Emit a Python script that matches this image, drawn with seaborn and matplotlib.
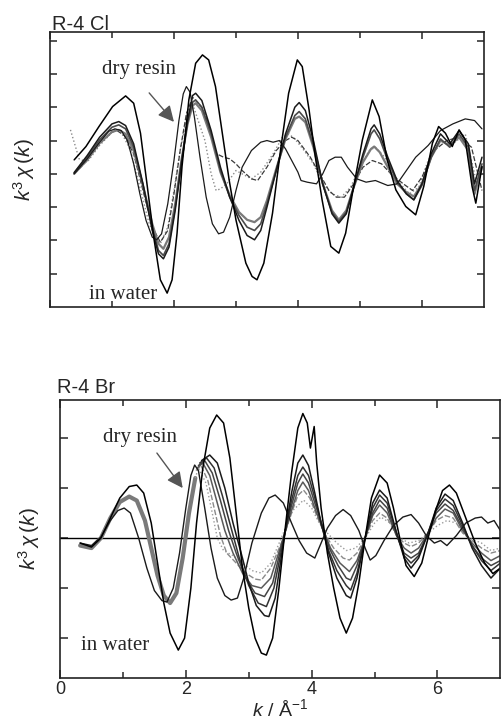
import matplotlib
matplotlib.use("Agg")
import matplotlib.pyplot as plt
import seaborn as sns

# ---- R-4 Cl panel (k in 1/A, k^3 chi(k) in tick units) ----
cl_water_k = [0.39, 0.58, 0.79, 1.01, 1.22, 1.35, 1.46, 1.57, 1.68, 1.78, 1.89, 1.97, 2.05, 2.13, 2.24, 2.35,
              2.46, 2.56, 2.67, 2.78, 2.89, 3.0, 3.16, 3.26, 3.34, 3.45, 3.59, 3.72, 3.85, 3.99, 4.07, 4.18,
              4.28, 4.39, 4.53, 4.66, 4.77, 4.88, 5.04, 5.2, 5.31, 5.44, 5.58, 5.74, 5.9, 6.03, 6.17, 6.27,
              6.38, 6.49, 6.6, 6.7, 6.81, 6.87, 6.97]
cl_water_v = [0.42, 0.82, 1.42, 2.02, 2.34, 2.12, 1.22, -0.38, -1.98, -3.18, -3.58, -3.18, -1.78, 0.22, 2.22, 3.32,
              3.57, 3.42, 2.62, 1.22, -0.18, -1.38, -2.68, -3.08, -3.18, -2.68, -1.18, 0.72, 2.42, 3.42, 3.22, 1.92,
              0.52, -0.78, -2.18, -2.38, -1.78, -0.58, 1.02, 2.22, 1.72, 0.42, -0.48, -0.98, -1.23, -0.38, 0.92, 1.42,
              1.22, 0.82, 1.32, 1.02, -0.38, -0.88, 0.22]

cl_b1_k = [0.39, 0.6, 0.8, 1.0, 1.11, 1.22, 1.35, 1.5, 1.65, 1.75, 1.83, 1.92, 2.02, 2.12, 2.22, 2.3, 2.35, 2.45,
           2.6, 2.75, 2.9, 3.05, 3.18, 3.3, 3.4, 3.5, 3.65, 3.8, 3.95, 4.02, 4.12, 4.25, 4.4, 4.55, 4.66, 4.78,
           4.9, 5.05, 5.18, 5.23, 5.32, 5.45, 5.6, 5.75, 5.87, 6.0, 6.15, 6.3, 6.45, 6.6, 6.75, 6.85, 6.97]
cl_b1_v = [0.04, 0.55, 1.1, 1.5, 1.57, 1.45, 0.9, -0.3, -1.7, -2.4, -2.55, -2.2, -1.1, 0.3, 1.6, 2.35, 2.42, 2.2,
           1.3, 0.2, -0.7, -1.4, -1.85, -1.98, -1.7, -1.0, 0.1, 1.2, 2.0, 2.14, 1.9, 1.0, -0.3, -1.2, -1.48, -1.2,
           -0.4, 0.6, 1.35, 1.47, 1.2, 0.5, -0.2, -0.6, -0.78, -0.3, 0.6, 1.2, 0.9, 1.3, 0.9, -0.3, 0.5]

cl_b2_k = cl_b1_k
cl_b2_v = [0.02, 0.5, 1.02, 1.4, 1.47, 1.35, 0.8, -0.35, -1.6, -2.3, -2.45, -2.1, -1.0, 0.35, 1.55, 2.15, 2.22, 2.0,
           1.2, 0.1, -0.7, -1.25, -1.6, -1.7, -1.5, -0.9, 0.1, 1.1, 1.75, 1.87, 1.65, 0.85, -0.3, -1.15, -1.43, -1.15,
           -0.4, 0.5, 1.2, 1.32, 1.05, 0.4, -0.25, -0.6, -0.78, -0.35, 0.5, 1.05, 0.8, 1.2, 0.8, -0.5, 0.3]

cl_b3_k = cl_b1_k
cl_b3_v = [0.0, 0.42, 0.92, 1.26, 1.32, 1.2, 0.7, -0.35, -1.5, -2.1, -2.25, -1.9, -0.9, 0.4, 1.5, 2.05, 2.12, 1.9,
           1.1, 0.05, -0.65, -1.15, -1.38, -1.45, -1.3, -0.8, 0.15, 1.05, 1.65, 1.72, 1.55, 0.8, -0.3, -1.1, -1.38, -1.1,
           -0.4, 0.35, 0.75, 0.82, 0.65, 0.2, -0.3, -0.55, -0.68, -0.3, 0.5, 1.0, 0.85, 1.1, 0.7, -0.6, 0.2]

cl_c1_k = [0.39, 0.6, 0.8, 1.0, 1.08, 1.2, 1.35, 1.5, 1.65, 1.78, 1.9, 2.0, 2.1, 2.2, 2.3, 2.45, 2.56, 2.67, 2.8,
           2.9, 3.0, 3.1, 3.25, 3.35, 3.5, 3.65, 3.8, 3.9, 4.0, 4.1, 4.2, 4.35, 4.5, 4.62, 4.75, 4.9, 5.05, 5.2,
           5.35, 5.5, 5.7, 5.85, 6.0, 6.2, 6.4, 6.6, 6.8, 6.97]
cl_c1_v = [0.0, 0.4, 0.9, 1.25, 1.3, 1.15, 0.6, -0.5, -1.6, -2.05, -1.7, -0.6, 0.7, 1.8, 2.3, 2.0, 1.5, 0.62, 0.5,
           0.45, 0.3, 0.1, -0.15, -0.2, 0.2, 0.7, 1.0, 1.1, 1.0, 0.75, 0.5, 0.0, -0.5, -0.7, -0.7, -0.3, 0.2, 0.4,
           0.3, 0.0, -0.3, -0.5, -0.1, 0.7, 1.0, 1.1, 0.8, -0.5]

cl_c2_k = [0.33, 0.47, 0.6, 0.8, 1.0, 1.05, 1.15, 1.3, 1.45, 1.6, 1.72, 1.78, 1.9, 2.0, 2.1, 2.2, 2.3, 2.5, 2.6,
           2.68, 2.75, 2.85, 3.0, 3.1, 3.25, 3.4, 3.6, 3.75, 3.85, 3.95, 4.1, 4.25, 4.4, 4.55, 4.7, 4.85, 5.0,
           5.15, 5.25, 5.4, 5.6, 5.8, 5.95, 6.1, 6.3, 6.5, 6.7, 6.9]
cl_c2_v = [1.32, 0.45, 0.35, 0.85, 1.25, 1.35, 1.25, 0.7, -0.4, -1.5, -2.0, -2.1, -1.6, -0.5, 0.7, 1.6, 2.1, 1.0, 0.0,
           -0.5, -0.45, -0.3, 0.1, 0.0, -0.15, 0.05, 0.6, 1.1, 1.2, 1.05, 0.7, 0.3, -0.3, -0.6, -0.7, -0.4, 0.2,
           0.7, 0.8, 0.5, -0.2, -0.6, -0.4, 0.4, 1.0, 0.9, 1.2, -0.4]

cl_dry_k = [0.39, 0.6, 0.8, 0.95, 1.05, 1.15, 1.25, 1.35, 1.45, 1.55, 1.65, 1.72, 1.8, 1.9, 2.0, 2.08, 2.15, 2.2,
            2.26, 2.33, 2.42, 2.52, 2.62, 2.72, 2.8, 2.9, 3.0, 3.1, 3.25, 3.4, 3.5, 3.6, 3.7, 3.8, 3.9, 4.0, 4.05,
            4.15, 4.3, 4.4, 4.5, 4.6, 4.7, 4.8, 4.95, 5.1, 5.25, 5.45, 5.6, 5.75, 5.9, 6.1, 6.3, 6.5, 6.7, 6.85, 6.97]
cl_dry_v = [0.0, 0.45, 0.95, 1.28, 1.35, 1.3, 1.0, 0.3, -0.6, -1.4, -1.9, -1.98, -1.8, -0.9, 0.4, 1.6, 2.4, 2.62,
            2.45, 1.7, 0.5, -0.7, -1.5, -1.8, -1.75, -1.3, -0.5, 0.2, 0.7, 0.95, 1.0, 0.95, 1.0, 0.75, 0.4, 0.05, -0.2,
            -0.25, -0.3, 0.0, 0.4, 0.5, 0.5, 0.2, -0.15, -0.25, -0.2, -0.35, -0.3, 0.1, 0.5, 0.85, 1.3, 1.5, 1.65, 1.6, 1.35]

# ---- R-4 Br panel ----
br_water_k = [0.32, 0.5, 0.65, 0.8, 0.95, 1.1, 1.22, 1.33, 1.45, 1.55, 1.65, 1.75, 1.88, 1.98, 2.08, 2.17, 2.27,
              2.38, 2.49, 2.6, 2.7, 2.8, 2.9, 3.0, 3.1, 3.2, 3.28, 3.38, 3.48, 3.58, 3.68, 3.78, 3.86, 3.93, 3.98,
              4.04, 4.08, 4.15, 4.25, 4.35, 4.45, 4.55, 4.65, 4.75, 4.85, 4.95, 5.08, 5.2, 5.3, 5.4, 5.5, 5.63,
              5.75, 5.85, 5.97, 6.08, 6.19, 6.3, 6.45, 6.6, 6.75, 6.88, 7.0]
br_water_v = [-0.1, -0.18, 0.0, 0.4, 0.8, 1.03, 1.06, 0.9, 0.3, -0.5, -1.3, -1.9, -2.24, -2.0, -1.0, 0.3, 1.4,
              2.2, 2.46, 2.3, 1.6, 0.5, -0.6, -1.4, -2.0, -2.3, -2.34, -2.0, -1.0, 0.2, 1.3, 2.2, 2.49, 2.3, 1.8,
              2.23, 1.5, 0.6, -0.3, -1.0, -1.6, -1.9, -1.6, -0.9, 0.0, 0.8, 1.26, 1.1, 0.6, 0.0, -0.55, -0.77,
              -0.5, 0.0, 0.55, 0.95, 1.06, 0.9, 0.4, -0.1, -0.5, -0.71, -0.6]

br_early_k = [0.32, 0.5, 0.65, 0.8, 0.95, 1.1, 1.22, 1.35, 1.45, 1.55, 1.65, 1.75, 1.85, 1.95, 2.05, 2.15]
br_early_v = [-0.15, -0.2, 0.0, 0.4, 0.72, 0.83, 0.75, 0.35, -0.2, -0.75, -1.15, -1.3, -1.1, -0.4, 0.5, 1.2]

br_f1_k = [2.25, 2.38, 2.5, 2.62, 2.75, 2.9, 3.0, 3.12, 3.25, 3.32, 3.42, 3.55, 3.68, 3.78, 3.86, 3.95, 4.05, 4.15,
           4.27, 4.4, 4.55, 4.62, 4.72, 4.85, 4.97, 5.08, 5.2, 5.35, 5.47, 5.58, 5.7, 5.85, 5.98, 6.12, 6.25, 6.4,
           6.55, 6.7, 6.85, 7.0]
br_f1_v = [1.55, 1.66, 1.5, 1.0, 0.3, -0.4, -0.9, -1.35, -1.55, -1.57, -1.2, -0.1, 0.9, 1.5, 1.66, 1.45, 0.9, 0.3,
           -0.3, -0.8, -1.15, -1.2, -0.8, 0.0, 0.7, 0.96, 0.8, 0.1, -0.4, -0.6, -0.4, 0.1, 0.6, 0.88, 0.75, 0.3,
           -0.2, -0.55, -0.8, -0.6]

br_f2_k = [2.22, 2.33, 2.45, 2.58, 2.72, 2.85, 3.0, 3.15, 3.28, 3.4, 3.55, 3.68, 3.78, 3.86, 3.95, 4.05, 4.15, 4.27,
           4.4, 4.55, 4.62, 4.72, 4.85, 4.97, 5.08, 5.2, 5.35, 5.47, 5.58, 5.7, 5.85, 5.98, 6.12, 6.25, 6.4, 6.55,
           6.7, 6.85, 7.0]
br_f2_v = [1.5, 1.6, 1.4, 0.85, 0.2, -0.4, -0.95, -1.3, -1.37, -1.0, -0.05, 0.75, 1.25, 1.42, 1.25, 0.8, 0.3, -0.25,
           -0.65, -0.95, -1.04, -0.7, 0.0, 0.6, 0.86, 0.7, 0.1, -0.35, -0.5, -0.35, 0.1, 0.55, 0.78, 0.65, 0.25, -0.15,
           -0.45, -0.65, -0.5]

br_f3_k = [2.2, 2.3, 2.42, 2.55, 2.68, 2.8, 2.95, 3.1, 3.25, 3.38, 3.55, 3.68, 3.78, 3.86, 3.95, 4.05, 4.17, 4.28,
           4.42, 4.55, 4.62, 4.72, 4.85, 4.97, 5.08, 5.2, 5.35, 5.47, 5.58, 5.7, 5.85, 5.98, 6.12, 6.25, 6.4, 6.55,
           6.7, 6.85, 7.0]
br_f3_v = [1.45, 1.55, 1.3, 0.75, 0.15, -0.3, -0.8, -1.1, -1.17, -0.9, 0.0, 0.65, 1.1, 1.28, 1.1, 0.7, 0.25, -0.2,
           -0.55, -0.8, -0.84, -0.55, 0.0, 0.5, 0.76, 0.6, 0.05, -0.3, -0.4, -0.3, 0.1, 0.5, 0.68, 0.55, 0.2, -0.15,
           -0.4, -0.55, -0.45]

br_f4_k = [2.18, 2.27, 2.38, 2.5, 2.62, 2.75, 2.9, 3.05, 3.2, 3.35, 3.55, 3.68, 3.78, 3.86, 3.95, 4.05, 4.17, 4.3,
           4.45, 4.6, 4.72, 4.85, 4.97, 5.08, 5.2, 5.35, 5.47, 5.58, 5.7, 5.85, 5.98, 6.12, 6.25, 6.4, 6.55, 6.7,
           6.85, 7.0]
br_f4_v = [1.4, 1.5, 1.25, 0.7, 0.15, -0.3, -0.7, -0.95, -1.0, -0.8, 0.0, 0.55, 0.95, 1.12, 0.95, 0.6, 0.2, -0.2,
           -0.5, -0.67, -0.45, 0.0, 0.45, 0.66, 0.5, 0.05, -0.2, -0.3, -0.2, 0.1, 0.4, 0.58, 0.5, 0.15, -0.1, -0.3,
           -0.45, -0.35]

br_f5_k = [2.16, 2.24, 2.35, 2.45, 2.55, 2.65, 2.8, 2.95, 3.1, 3.2, 3.35, 3.55, 3.68, 3.78, 3.87, 3.97, 4.08, 4.2,
           4.35, 4.5, 4.6, 4.72, 4.85, 4.97, 5.08, 5.2, 5.35, 5.47, 5.58, 5.7, 5.85, 5.98, 6.12, 6.25, 6.4, 6.55,
           6.7, 6.85, 7.0]
br_f5_v = [1.35, 1.45, 1.15, 0.6, 0.05, -0.3, -0.5, -0.7, -0.82, -0.84, -0.6, 0.0, 0.5, 0.85, 0.96, 0.8, 0.45, 0.1,
           -0.2, -0.4, -0.44, -0.3, 0.0, 0.35, 0.5, 0.4, 0.05, -0.1, -0.17, -0.1, 0.1, 0.35, 0.45, 0.4, 0.1, -0.05,
           -0.2, -0.3, -0.25]

br_f6_k = [2.15, 2.2, 2.32, 2.42, 2.5, 2.6, 2.75, 2.9, 3.05, 3.2, 3.35, 3.55, 3.7, 3.87, 4.0, 4.12, 4.25, 4.4,
           4.55, 4.7, 4.85, 5.0, 5.1, 5.25, 5.4, 5.55, 5.7, 5.85, 6.0, 6.15, 6.3, 6.5, 6.7, 6.85, 7.0]
br_f6_v = [1.2, 1.4, 1.1, 0.5, 0.0, -0.25, -0.35, -0.5, -0.65, -0.7, -0.5, 0.1, 0.55, 0.76, 0.6, 0.3, 0.1, -0.1,
           -0.25, -0.2, 0.0, 0.3, 0.42, 0.3, 0.0, -0.1, -0.05, 0.1, 0.25, 0.35, 0.3, 0.0, -0.1, -0.25, -0.2]

br_dry_k = [0.32, 0.5, 0.65, 0.8, 0.92, 1.02, 1.12, 1.25, 1.38, 1.5, 1.62, 1.7, 1.8, 1.9, 2.0, 2.08, 2.14, 2.2,
            2.3, 2.4, 2.5, 2.62, 2.72, 2.82, 2.92, 3.05, 3.2, 3.32, 3.42, 3.55, 3.68, 3.8, 3.92, 4.05, 4.15, 4.25,
            4.38, 4.5, 4.62, 4.75, 4.85, 4.93, 5.02, 5.15, 5.3, 5.45, 5.58, 5.7, 5.82, 5.95, 6.05, 6.15, 6.3, 6.45,
            6.6, 6.7, 6.8, 6.9, 7.0]
br_dry_v = [-0.1, -0.15, 0.02, 0.35, 0.55, 0.6, 0.5, 0.0, -0.6, -1.05, -1.25, -1.28, -1.0, -0.3, 0.6, 1.25, 1.46,
            1.35, 0.6, -0.2, -0.8, -1.15, -1.24, -1.2, -0.8, -0.1, 0.5, 0.8, 0.86, 0.7, 0.3, -0.05, -0.3, -0.4, -0.1,
            0.2, 0.45, 0.57, 0.45, 0.15, -0.2, -0.44, -0.35, -0.05, 0.25, 0.42, 0.47, 0.3, 0.05, -0.1, -0.05, -0.15,
            0.05, 0.3, 0.4, 0.42, 0.3, 0.35, 0.15]

sns.set_style("ticks")
plt.rcParams['font.family'] = ['Liberation Sans', 'DejaVu Sans']
plt.rcParams['mathtext.fontset'] = 'custom'
plt.rcParams['mathtext.rm'] = 'Liberation Sans'
plt.rcParams['mathtext.it'] = 'Liberation Sans:italic'
plt.rcParams['axes.linewidth'] = 1.2
plt.rcParams['lines.solid_joinstyle'] = 'round'
plt.rcParams['lines.dash_joinstyle'] = 'round'

fig = plt.figure(figsize=(5.01, 7.26), dpi=100)
ax1 = fig.add_axes([0.0998, 0.577, 0.866, 0.379])
ax2 = fig.add_axes([0.1198, 0.066, 0.879, 0.383])


def draw(ax, k, v, color, lw=1.0, ls='-'):
    sns.lineplot(x=k, y=v, ax=ax, color=color, linewidth=lw, linestyle=ls,
                 sort=False, estimator=None, legend=False)


# top panel curves
draw(ax1, cl_c2_k, cl_c2_v, '#8a8a8a', 1.0, ':')
draw(ax1, cl_c1_k, cl_c1_v, '#3a3a3a', 0.9, (0, (4, 1.5)))
draw(ax1, cl_b3_k, cl_b3_v, '#7a7a7a', 1.6)
draw(ax1, cl_b2_k, cl_b2_v, '#4a4a4a', 1.2)
draw(ax1, cl_b1_k, cl_b1_v, '#1a1a1a', 1.1)
draw(ax1, cl_dry_k, cl_dry_v, '#1a1a1a', 0.9)
draw(ax1, cl_water_k, cl_water_v, 'black', 1.1)

# bottom panel curves
ax2.axhline(0, color='black', lw=1.0)
draw(ax2, br_early_k, br_early_v, '#7a7a7a', 3.0)
draw(ax2, br_f6_k, br_f6_v, '#9a9a9a', 1.0, ':')
draw(ax2, br_f5_k, br_f5_v, '#8a8a8a', 1.0, (0, (4, 1.5)))
draw(ax2, br_f4_k, br_f4_v, '#5a5a5a', 1.1)
draw(ax2, br_f3_k, br_f3_v, '#444444', 1.1)
draw(ax2, br_f2_k, br_f2_v, '#333333', 1.1)
draw(ax2, br_f1_k, br_f1_v, '#1a1a1a', 1.1)
draw(ax2, br_dry_k, br_dry_v, '#1a1a1a', 1.0)
draw(ax2, br_water_k, br_water_v, 'black', 1.1)

for ax in (ax1, ax2):
    ax.set_xlim(0, 7.0)
    ax.set_xticks([0, 2, 4, 6])
    ax.set_xticks([1, 3, 5], minor=True)
    ax.tick_params(axis='both', which='major', direction='in', top=True, right=True,
                   length=6, width=1.1, labelsize=13)
    ax.tick_params(axis='x', which='minor', direction='in', top=True, bottom=True,
                   length=4, width=1.1)
    for s in ax.spines.values():
        s.set_color('#222222')

ax1.set_ylim(-4.0, 4.26)
ax1.set_yticks([-3, -2, -1, 0, 1, 2, 3, 4])
ax1.tick_params(labelbottom=False, labelleft=False, length=5)
ax2.set_ylim(-2.8, 2.76)
ax2.set_yticks([-2, -1, 0, 1, 2])
ax2.tick_params(labelleft=False)
ax2.tick_params(axis='x', pad=2)

ylab = r'$k^3\,\chi\,(k)$'
ax1.set_ylabel(ylab, fontsize=15)
ax1.yaxis.set_label_coords(-0.03, 0.5)
ax2.set_ylabel(ylab, fontsize=15)
ax2.yaxis.set_label_coords(-0.04, 0.5)
ax1.set_xlabel('')
ax2.set_xlabel(r'$k$ / Å$^{-1}$', fontsize=14, labelpad=0)

ax1.text(0.005, 1.007, 'R-4 Cl', transform=ax1.transAxes, fontsize=14.5, va='baseline', ha='left')
ax2.text(-0.007, 1.025, 'R-4 Br', transform=ax2.transAxes, fontsize=14.5, va='baseline', ha='left')

serif = ['Liberation Serif', 'DejaVu Serif']
ax1.text(1.44, 3.12, 'dry resin', family=serif, fontsize=15, ha='center', va='center')
ax1.text(1.18, -3.62, 'in water', family=serif, fontsize=15, ha='center', va='center')
ax2.text(1.27, 2.02, 'dry resin', family=serif, fontsize=15, ha='center', va='center')
ax2.text(0.87, -2.14, 'in water', family=serif, fontsize=15, ha='center', va='center')

arrow = dict(arrowstyle='-|>', mutation_scale=24, color='#555555', lw=1.0, shrinkA=0, shrinkB=0)
ax1.annotate('', xy=(2.0, 1.56), xytext=(1.6, 2.43), arrowprops=arrow)
ax2.annotate('', xy=(1.95, 1.0), xytext=(1.54, 1.7), arrowprops=arrow)

fig.savefig('out.png', dpi=100)
